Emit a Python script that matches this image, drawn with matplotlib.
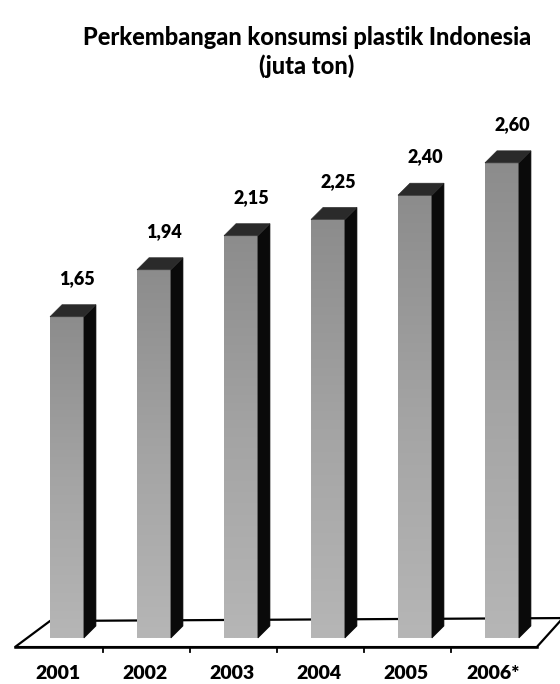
import matplotlib.pyplot as plt
import numpy as np
from matplotlib.patches import Polygon
from matplotlib.colors import LinearSegmentedColormap

years = ["2001", "2002", "2003", "2004", "2005", "2006*"]
consumption = [1.65, 1.94, 2.15, 2.25, 2.40, 2.60]
value_labels = ["1,65", "1,94", "2,15", "2,25", "2,40", "2,60"]

TITLE = "Perkembangan konsumsi plastik Indonesia\n(juta ton)"

plt.rcParams["font.family"] = ["Lato", "DejaVu Sans"]

BASE = -0.333          # value level where bars meet the floor
BAR_W = 0.39
DX, DY = 0.138, 0.074  # 3D depth offset (x units, value units)

face_cmap = LinearSegmentedColormap.from_list("face", ["#8c8c8c", "#a4a4a4", "#b6b6b6"])

fig = plt.figure(figsize=(5.6, 6.84), dpi=100)
ax = fig.add_axes([0, 0, 1, 1])
ax.set_xlim(-0.770, 5.667)
ax.set_ylim(-0.617, 3.605)
ax.axis("off")

# floor plane
floor = Polygon([(-0.598, -0.389), (-0.195, -0.228), (5.70, -0.21), (5.40, -0.389)],
                closed=True, facecolor="white", edgecolor="black", lw=1.6, zorder=1)
ax.add_patch(floor)
for i in range(len(years) - 1):
    tx = i + 0.41
    ax.plot([tx, tx], [-0.389, -0.42], color="black", lw=1.3, zorder=6)
ax.plot([-0.598, 5.40], [-0.389, -0.389], color="black", lw=1.8, zorder=6)

grad = np.linspace(0, 1, 256).reshape(-1, 1)
for i, v in enumerate(consumption):
    x0 = i - BAR_W / 2
    x1 = i + BAR_W / 2
    bars = ax.bar(i, v - BASE, width=BAR_W, bottom=BASE, color="#a4a4a4",
                  edgecolor="none", zorder=3)
    rect = bars[0]
    im = ax.imshow(grad, cmap=face_cmap, aspect="auto",
                   extent=(x0, x1, BASE, v), origin="upper", zorder=3.5)
    im.set_clip_path(rect)
    # side face
    side = Polygon([(x1, BASE), (x1 + DX, BASE + DY), (x1 + DX, v + DY), (x1, v)],
                   closed=True, facecolor="#0a0a0a", edgecolor="#0a0a0a", lw=0.5, zorder=4)
    ax.add_patch(side)
    # top face
    top = Polygon([(x0, v), (x0 + DX, v + DY), (x1 + DX, v + DY), (x1, v)],
                  closed=True, facecolor="#2a2a2a", edgecolor="#2a2a2a", lw=0.5, zorder=4)
    ax.add_patch(top)
    ax.text(i + 0.12, v + DY + 0.11, value_labels[i], ha="center", va="bottom",
            fontsize=13, fontweight="heavy", color="black")
    ax.text(i - 0.1, -0.50, years[i], ha="center", va="top",
            fontsize=14, fontweight="heavy", color="black")

fig.text(0.548, 0.962, TITLE, ha="center", va="top", fontsize=17,
         fontweight="black", linespacing=1.3)

fig.savefig("out.png", dpi=100)
